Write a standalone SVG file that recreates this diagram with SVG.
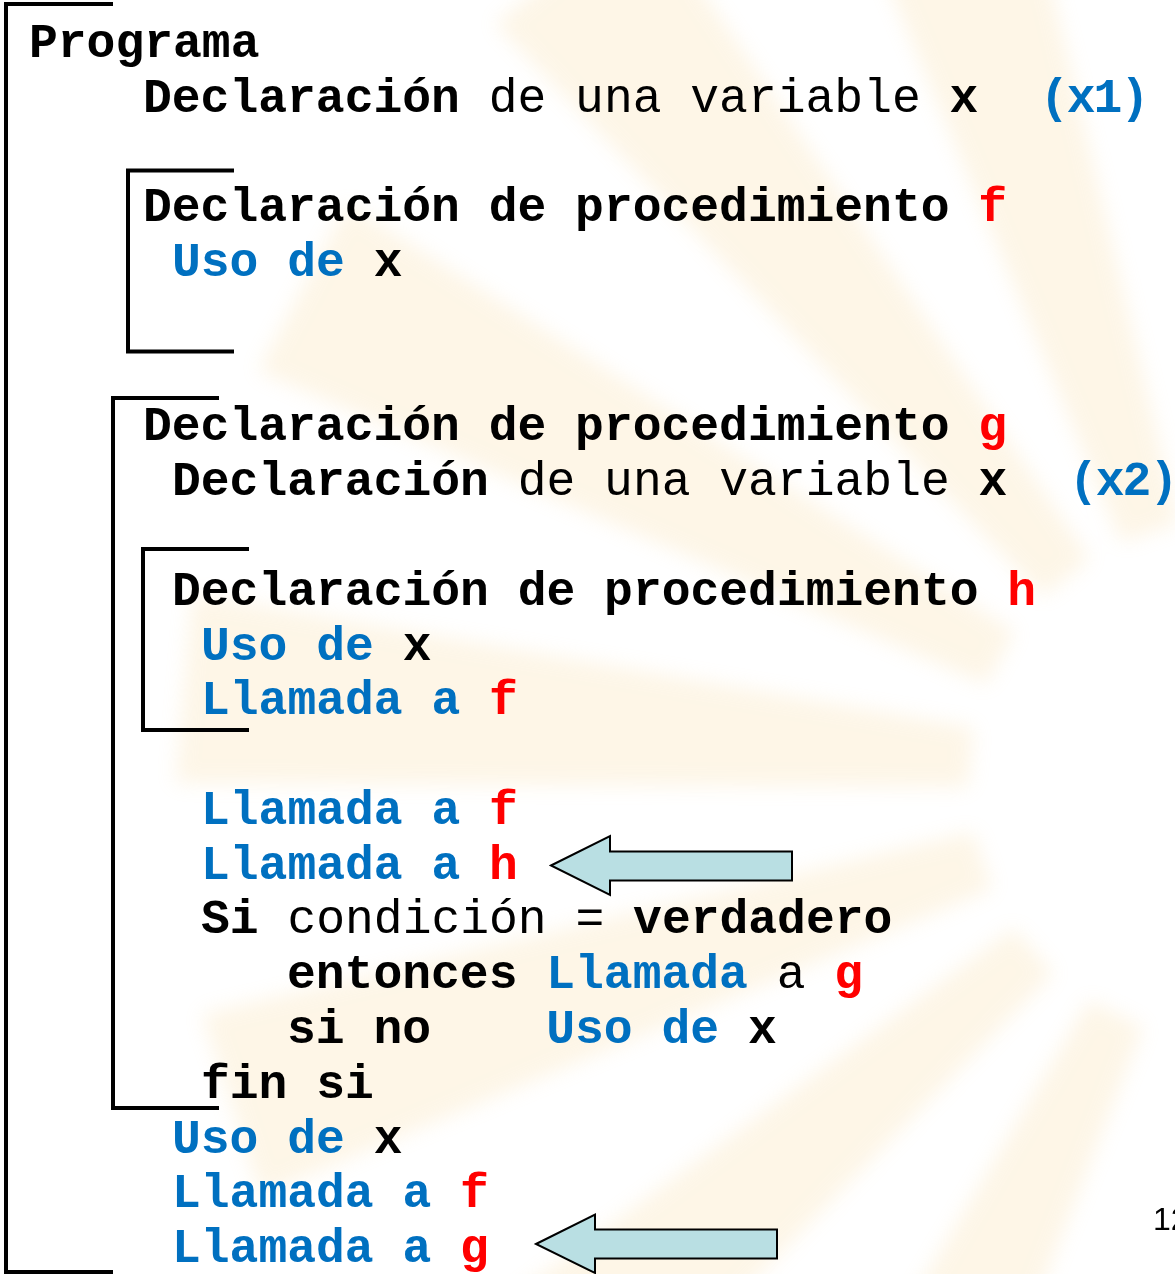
<svg xmlns="http://www.w3.org/2000/svg" xmlns:xlink="http://www.w3.org/1999/xlink" width="1175" height="1274" viewBox="0 0 1175 1274">
<style>
.t{font-family:"Liberation Mono","Courier New",monospace;font-size:48px;font-weight:bold;fill:#000}
.n{font-weight:normal}
.b{fill:#0070C0}
.r{fill:#FF0000}
.p{letter-spacing:-2px}
.br{fill:none;stroke:#000;stroke-width:4;stroke-linecap:square}
.arr{fill:#B9DFE3;stroke:#000;stroke-width:2;stroke-linejoin:miter}
.ray{fill:#F7D289;opacity:0.2}
.num{font-family:"Liberation Sans",Arial,sans-serif;font-size:32px;fill:#000}
</style>
<defs>
<filter id="blur" x="-20%" y="-20%" width="140%" height="140%"><feGaussianBlur stdDeviation="10"/></filter>
<polygon id="ray" points="260,-30 1050,-95 1050,95 260,30"/>
</defs>
<rect width="1175" height="1274" fill="#fff"/>
<g id="watermark" class="ray" filter="url(#blur)">
<use xlink:href="#ray" transform="translate(1230,780) rotate(252)"/>
<use xlink:href="#ray" transform="translate(1230,780) rotate(231)"/>
<use xlink:href="#ray" transform="translate(1230,780) rotate(208)"/>
<use xlink:href="#ray" transform="translate(1230,780) rotate(185)"/>
<use xlink:href="#ray" transform="translate(1230,780) rotate(162)"/>
<use xlink:href="#ray" transform="translate(1230,780) rotate(139)"/>
<use xlink:href="#ray" transform="translate(1230,780) rotate(116)"/>
</g>

<g id="programa">
<polyline class="br" points="111,4 6,4 6,1272 111,1272"/>
<text class="t" x="29" y="57">Programa</text>
<text class="t" x="143" y="112" xml:space="preserve">Declaración<tspan class="n"> de una variable </tspan>x  <tspan class="b p" dx="4">(x1)</tspan></text>
</g>

<g id="proc-f">
<polyline class="br" points="232,170.5 128,170.5 128,351.5 232,351.5"/>
<text class="t" x="143" y="221" xml:space="preserve">Declaración de procedimiento <tspan class="r">f</tspan></text>
<text class="t" x="172" y="276" xml:space="preserve"><tspan class="b">Uso de</tspan> x</text>
</g>

<g id="proc-g">
<polyline class="br" points="217,398 113,398 113,1108 217,1108"/>
<text class="t" x="143" y="440" xml:space="preserve">Declaración de procedimiento <tspan class="r">g</tspan></text>
<text class="t" x="172" y="495" xml:space="preserve">Declaración<tspan class="n"> de una variable </tspan>x  <tspan class="b p" dx="4">(x2)</tspan></text>
<text class="t b" x="201" y="824" xml:space="preserve">Llamada a <tspan class="r">f</tspan></text>
<text class="t b" x="201" y="878.5" xml:space="preserve">Llamada a <tspan class="r">h</tspan></text>
<text class="t" x="201" y="933" xml:space="preserve">Si<tspan class="n"> condición = </tspan>verdadero</text>
<text class="t" x="287" y="988" xml:space="preserve">entonces <tspan class="b">Llamada</tspan><tspan class="n"> a </tspan><tspan class="r">g</tspan></text>
<text class="t" x="287" y="1043" xml:space="preserve">si no    <tspan class="b">Uso de</tspan> x</text>
<text class="t" x="201" y="1097.5">fin si</text>
</g>

<g id="proc-h">
<polyline class="br" points="247,549 143,549 143,730 247,730"/>
<text class="t" x="172" y="605" xml:space="preserve">Declaración de procedimiento <tspan class="r">h</tspan></text>
<text class="t" x="201" y="659.5" xml:space="preserve"><tspan class="b">Uso de</tspan> x</text>
<text class="t b" x="201" y="714" xml:space="preserve">Llamada a <tspan class="r">f</tspan></text>
</g>

<g id="main-body">
<text class="t" x="172" y="1152.5" xml:space="preserve"><tspan class="b">Uso de</tspan> x</text>
<text class="t b" x="172" y="1207" xml:space="preserve">Llamada a <tspan class="r">f</tspan></text>
<text class="t b" x="172" y="1262" xml:space="preserve">Llamada a <tspan class="r">g</tspan></text>
</g>

<g id="connectors">
<polygon class="arr" points="551,865.5 610,836 610,851.5 792,851.5 792,880.5 610,880.5 610,895"/>
<polygon class="arr" points="536,1244 595,1214.5 595,1229.5 777,1229.5 777,1258.5 595,1258.5 595,1273"/>
</g>

<text class="num" x="1153" y="1230">12</text>
</svg>
